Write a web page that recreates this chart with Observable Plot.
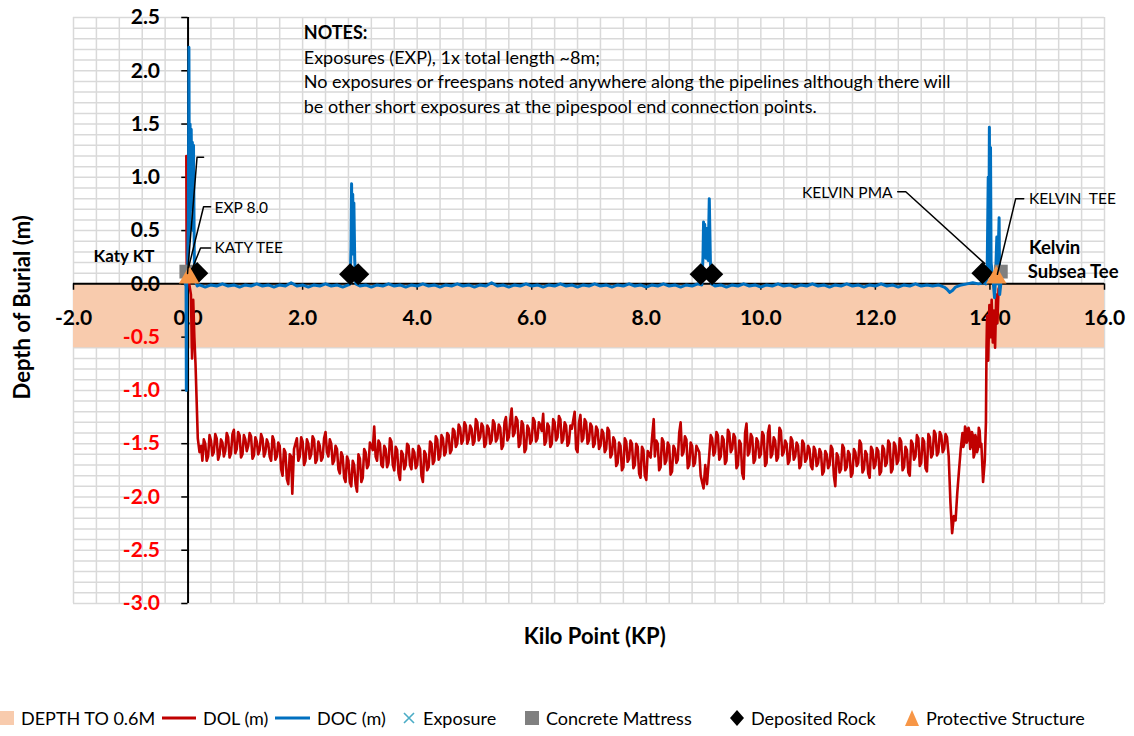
<!DOCTYPE html>
<html><head><meta charset="utf-8">
<script src="https://cdn.jsdelivr.net/npm/d3@7"></script>
<script src="https://cdn.jsdelivr.net/npm/@observablehq/plot@0.6"></script>
<style>
body{margin:0;background:#fff;font-family:Lato,"Open Sans",sans-serif;}
#wrap{position:relative;width:1134px;height:736px;overflow:hidden;}
#legend{position:absolute;left:0;top:700px;width:1134px;height:36px;font-size:18px;color:#000;}
#legend .it{position:absolute;top:0;height:36px;display:flex;align-items:center;white-space:nowrap;}
</style></head><body><div id="wrap"><div id="chart"></div><div id="legend"></div></div>
<script>
// ---- tick labels ----
const X_TICKS = [-2, 0, 2, 4, 6, 8, 10, 12, 14, 16];
const Y_TICKS = [-3, -2.5, -2, -1.5, -1, -0.5, 0, 0.5, 1, 1.5, 2, 2.5];

// ---- DEPTH TO 0.6M band ----
const depthBand = [{top: 0, bottom: -0.6}];

// ---- DOL (m) : [KP, depth] ----
const dolPoints = [
[-0.03,1.20],[-0.025,0.30],[-0.02,0.02],[0.02,0.00],[0.05,-0.10],[0.07,-0.70],[0.09,-0.15],[0.11,-0.50],[0.13,-0.75],[0.15,-1.10],[0.17,-1.45],[0.20,-1.58],[0.23,-1.52],
[0.25,-1.66],[0.30,-1.50],[0.35,-1.62],[0.40,-1.47],[0.45,-1.58],[0.50,-1.45],[0.55,-1.60],[0.60,-1.49],[0.65,-1.57],[0.70,-1.44],[0.75,-1.59],[0.80,-1.37],[0.85,-1.55],[0.90,-1.42],[0.95,-1.60],[1.00,-1.46],[1.05,-1.52],[1.10,-1.43],[1.15,-1.61],[1.20,-1.48],[1.25,-1.56],[1.30,-1.45],[1.35,-1.58],[1.40,-1.50],[1.45,-1.66],[1.50,-1.47],[1.55,-1.62],
[1.60,-1.52],[1.65,-1.80],[1.70,-1.58],[1.75,-1.88],[1.80,-1.62],[1.82,-1.97],[1.85,-1.55],
[1.90,-1.45],[1.95,-1.62],[2.00,-1.48],[2.05,-1.66],[2.10,-1.50],[2.15,-1.60],[2.20,-1.46],[2.25,-1.65],[2.30,-1.52],[2.35,-1.63],[2.40,-1.39],[2.45,-1.62],[2.50,-1.50],[2.55,-1.66],[2.60,-1.55],
[2.65,-1.78],[2.70,-1.62],[2.75,-1.86],[2.80,-1.66],[2.85,-1.90],[2.90,-1.70],[2.95,-1.95],[3.00,-1.64],[3.05,-1.82],[3.10,-1.58],
[3.15,-1.70],[3.20,-1.52],[3.25,-1.34],[3.30,-1.66],[3.35,-1.50],[3.40,-1.72],[3.45,-1.55],[3.50,-1.68],[3.55,-1.48],[3.60,-1.75],[3.65,-1.56],[3.70,-1.84],[3.75,-1.60],[3.80,-1.70],[3.85,-1.52],[3.90,-1.74],[3.95,-1.58],[4.00,-1.70],[4.05,-1.55],[4.10,-1.86],[4.15,-1.60],[4.20,-1.72],[4.25,-1.50],[4.30,-1.66],[4.35,-1.46],[4.40,-1.62],[4.45,-1.45],[4.50,-1.58],
[4.55,-1.42],[4.60,-1.56],[4.65,-1.38],[4.70,-1.50],[4.75,-1.35],[4.80,-1.47],
[4.85,-1.33],[4.90,-1.46],[4.95,-1.36],[5.00,-1.48],[5.05,-1.30],[5.10,-1.44],[5.15,-1.34],[5.20,-1.50],[5.25,-1.36],[5.30,-1.47],[5.35,-1.31],[5.40,-1.45],[5.45,-1.35],[5.50,-1.52],[5.55,-1.25],[5.60,-1.44],[5.65,-1.17],[5.70,-1.40],[5.75,-1.28],[5.80,-1.50],[5.85,-1.32],[5.90,-1.55],[5.95,-1.36],[6.00,-1.47],[6.05,-1.29],[6.10,-1.45],[6.15,-1.33],[6.20,-1.22],[6.25,-1.48],[6.30,-1.34],[6.35,-1.50],[6.40,-1.30],[6.45,-1.44],[6.50,-1.27],[6.55,-1.46],[6.60,-1.33],[6.65,-1.49],[6.70,-1.36],[6.75,-1.20],[6.80,-1.58],[6.85,-1.23],[6.90,-1.45],[6.95,-1.30],[7.00,-1.47],[7.05,-1.34],[7.10,-1.50],[7.15,-1.37],[7.20,-1.52],
[7.25,-1.40],[7.30,-1.55],[7.35,-1.38],[7.40,-1.60],[7.45,-1.47],[7.50,-1.68],[7.55,-1.52],[7.60,-1.72],[7.65,-1.48],[7.70,-1.64],[7.75,-1.50],[7.80,-1.70],[7.85,-1.53],[7.90,-1.82],[7.95,-1.56],[8.00,-1.84],[8.05,-1.60],[8.10,-1.45],[8.13,-1.27],[8.15,-1.62],[8.20,-1.50],[8.25,-1.72],[8.30,-1.48],[8.35,-1.66],[8.40,-1.52],[8.45,-1.76],[8.50,-1.55],[8.55,-1.65],[8.60,-1.30],[8.65,-1.58],[8.70,-1.46],[8.75,-1.70],[8.80,-1.52],[8.85,-1.68],[8.90,-1.55],
[8.95,-1.80],[9.00,-1.92],[9.03,-1.70],[9.06,-1.88],[9.10,-1.60],
[9.15,-1.45],[9.20,-1.58],[9.25,-1.42],[9.30,-1.62],[9.35,-1.46],[9.40,-1.66],[9.45,-1.40],[9.50,-1.55],[9.55,-1.44],[9.60,-1.70],[9.65,-1.50],[9.70,-1.83],[9.75,-1.31],[9.80,-1.58],[9.85,-1.44],[9.90,-1.65],[9.95,-1.48],[10.00,-1.60],[10.05,-1.42],[10.10,-1.68],[10.15,-1.33],[10.20,-1.60],[10.25,-1.47],[10.30,-1.63],[10.35,-1.38],[10.40,-1.58],[10.45,-1.50],[10.50,-1.66],[10.55,-1.47],[10.60,-1.62],[10.65,-1.52],[10.70,-1.70],[10.75,-1.50],[10.80,-1.64],[10.85,-1.55],[10.90,-1.74],[10.95,-1.56],[11.00,-1.68],
[11.05,-1.58],[11.10,-1.76],[11.15,-1.60],[11.20,-1.70],[11.25,-1.55],[11.30,-1.90],[11.35,-1.62],[11.40,-1.74],[11.45,-1.54],[11.50,-1.72],[11.55,-1.60],[11.60,-1.78],[11.65,-1.58],[11.70,-1.68],[11.75,-1.50],[11.80,-1.74],[11.85,-1.60],[11.90,-1.82],[11.95,-1.56],[12.00,-1.70],[12.05,-1.57],[12.10,-1.76],
[12.15,-1.55],[12.20,-1.68],[12.25,-1.50],[12.30,-1.74],[12.35,-1.52],[12.40,-1.66],[12.45,-1.48],[12.50,-1.72],[12.55,-1.56],[12.60,-1.80],[12.65,-1.50],[12.70,-1.62],[12.75,-1.45],[12.80,-1.68],[12.85,-1.48],[12.90,-1.76],[12.95,-1.44],[13.00,-1.60],[13.05,-1.41],[13.10,-1.58],[13.15,-1.42],[13.20,-1.55],[13.25,-1.44],
[13.28,-1.62],[13.31,-2.05],[13.34,-2.34],[13.37,-2.18],[13.40,-2.22],[13.43,-1.96],[13.46,-1.75],[13.49,-1.55],
[13.52,-1.40],[13.55,-1.50],[13.58,-1.36],[13.61,-1.46],[13.64,-1.38],[13.67,-1.52],[13.70,-1.42],[13.73,-1.60],[13.76,-1.45],[13.79,-1.55],[13.82,-1.38],[13.85,-1.50],[13.88,-1.86],[13.91,-1.66],[13.93,-1.30],
[13.94,-0.60],[13.95,-0.30],[13.97,-0.72],[13.99,-0.20],[14.01,-0.50],[14.03,-0.15],[14.05,-0.55],[14.07,-0.25],[14.09,-0.60],[14.11,-0.10],[14.13,-0.37],[14.15,-0.05],[14.17,-0.02]
];
// ---- DOL (m) : extra in-between readings of the noisy band ----
const dolFill = [
[0.275,-1.46],[0.325,-1.66],[0.375,-1.42],[0.425,-1.61],[0.475,-1.41],[0.525,-1.65],[0.575,-1.46],[0.625,-1.62],[0.675,-1.40],[0.725,-1.63],[0.775,-1.41],[0.825,-1.59],[0.875,-1.39],[0.925,-1.63],[0.975,-1.42],[1.025,-1.57],[1.075,-1.40],[1.125,-1.64],[1.175,-1.44],[1.225,-1.60],[1.275,-1.41],[1.325,-1.62],[1.375,-1.46],[1.425,-1.62],[1.475,-1.43],[1.525,-1.65],[1.575,-1.49],
[1.625,-1.74],[1.675,-1.55],[1.725,-1.83],[1.775,-1.60],[1.875,-1.50],
[1.925,-1.66],[1.975,-1.44],[2.025,-1.70],[2.075,-1.46],[2.125,-1.64],[2.175,-1.43],[2.225,-1.68],[2.275,-1.48],[2.325,-1.66],[2.375,-1.45],[2.425,-1.58],[2.475,-1.46],[2.525,-1.69],[2.575,-1.52],[2.625,-1.74],
[2.675,-1.58],[2.725,-1.82],[2.775,-1.62],[2.825,-1.86],[2.875,-1.66],[2.925,-1.88],[2.975,-1.60],[3.025,-1.86],[3.075,-1.55],[3.125,-1.73],
[3.175,-1.49],[3.225,-1.56],[3.275,-1.62],[3.325,-1.47],[3.375,-1.70],[3.425,-1.52],[3.475,-1.72],[3.525,-1.45],[3.575,-1.70],[3.625,-1.53],[3.675,-1.78],[3.725,-1.57],[3.775,-1.74],[3.825,-1.50],[3.875,-1.70],[3.925,-1.55],[3.975,-1.73],[4.025,-1.52],[4.075,-1.80],[4.125,-1.57],[4.175,-1.75],[4.225,-1.48],[4.275,-1.69],[4.325,-1.43],[4.375,-1.65],[4.425,-1.42],[4.475,-1.61],[4.525,-1.40],
[4.575,-1.59],[4.625,-1.36],[4.675,-1.53],[4.725,-1.32],[4.775,-1.50],[4.825,-1.30],
[4.875,-1.50],[4.925,-1.33],[4.975,-1.51],[5.025,-1.27],[5.075,-1.47],[5.125,-1.31],[5.175,-1.53],[5.225,-1.33],[5.275,-1.50],[5.325,-1.28],[5.375,-1.48],[5.425,-1.32],[5.475,-1.55],[5.525,-1.30],[5.575,-1.47],[5.625,-1.28],[5.675,-1.43],[5.725,-1.25],[5.775,-1.53],[5.825,-1.29],[5.875,-1.58],[5.925,-1.33],[5.975,-1.50],[6.025,-1.26],[6.075,-1.48],[6.125,-1.30],[6.175,-1.38],[6.225,-1.51],[6.275,-1.31],[6.325,-1.53],[6.375,-1.27],[6.425,-1.47],[6.475,-1.24],[6.525,-1.49],[6.575,-1.30],[6.625,-1.52],[6.675,-1.33],[6.725,-1.28],[6.775,-1.55],[6.825,-1.30],[6.875,-1.48],[6.925,-1.27],[6.975,-1.50],[7.025,-1.31],[7.075,-1.53],[7.125,-1.34],[7.175,-1.55],[7.225,-1.37],
[7.275,-1.58],[7.325,-1.35],[7.375,-1.63],[7.425,-1.44],[7.475,-1.71],[7.525,-1.49],[7.575,-1.75],[7.625,-1.45],[7.675,-1.67],[7.725,-1.47],[7.775,-1.73],[7.825,-1.50],[7.875,-1.78],[7.925,-1.53],[7.975,-1.80],[8.025,-1.57],[8.075,-1.63],[8.175,-1.47],[8.225,-1.75],[8.275,-1.45],[8.325,-1.69],[8.375,-1.49],[8.425,-1.79],[8.475,-1.52],[8.525,-1.68],[8.575,-1.40],[8.625,-1.61],[8.675,-1.43],[8.725,-1.73],[8.775,-1.49],[8.825,-1.71],[8.875,-1.52],[8.925,-1.58],
[9.125,-1.42],[9.175,-1.61],[9.225,-1.39],[9.275,-1.65],[9.325,-1.43],[9.375,-1.69],[9.425,-1.37],[9.475,-1.58],[9.525,-1.41],[9.575,-1.73],[9.625,-1.47],[9.675,-1.78],[9.725,-1.40],[9.775,-1.61],[9.825,-1.41],[9.875,-1.68],[9.925,-1.45],[9.975,-1.63],[10.025,-1.39],[10.075,-1.71],[10.125,-1.40],[10.175,-1.63],[10.225,-1.44],[10.275,-1.66],[10.325,-1.35],[10.375,-1.61],[10.425,-1.47],[10.475,-1.69],[10.525,-1.44],[10.575,-1.65],[10.625,-1.49],[10.675,-1.73],[10.725,-1.47],[10.775,-1.67],[10.825,-1.52],[10.875,-1.71],[10.925,-1.53],[10.975,-1.71],[11.025,-1.55],
[11.075,-1.79],[11.125,-1.57],[11.175,-1.73],[11.225,-1.52],[11.275,-1.80],[11.325,-1.59],[11.375,-1.77],[11.425,-1.51],[11.475,-1.75],[11.525,-1.57],[11.575,-1.81],[11.625,-1.55],[11.675,-1.71],[11.725,-1.47],[11.775,-1.77],[11.825,-1.57],[11.875,-1.78],[11.925,-1.53],[11.975,-1.73],[12.025,-1.54],[12.075,-1.79],[12.125,-1.52],
[12.175,-1.71],[12.225,-1.47],[12.275,-1.77],[12.325,-1.49],[12.375,-1.69],[12.425,-1.45],[12.475,-1.75],[12.525,-1.53],[12.575,-1.77],[12.625,-1.47],[12.675,-1.65],[12.725,-1.42],[12.775,-1.71],[12.825,-1.45],[12.875,-1.73],[12.925,-1.41],[12.975,-1.63],[13.025,-1.38],[13.075,-1.61],[13.125,-1.39],[13.175,-1.58],[13.225,-1.41],
[13.535,-1.53],[13.565,-1.34],[13.595,-1.49],[13.625,-1.35],[13.655,-1.55],[13.685,-1.39],[13.715,-1.63],[13.745,-1.42],[13.775,-1.58],[13.805,-1.35],[13.835,-1.53]
];

// ---- DOC (m) : [KP, depth] ----
const docPoints = [
[-0.05,0.00],[-0.035,-0.02],[-0.03,-1.00],[-0.025,0.00],[-0.01,0.05],[0.005,0.60],[0.015,2.22],[0.025,0.40],[0.035,1.50],[0.045,0.70],[0.055,1.45],[0.065,0.90],[0.075,1.33],[0.085,0.50],[0.095,1.30],[0.11,0.20],[0.13,0.02],[0.16,-0.02],
[0.2,-0.01],[0.3,-0.03],[0.4,-0.01],[0.5,-0.02],[0.6,0.00],[0.7,-0.02],[0.8,-0.01],[0.9,-0.03],[1.0,-0.01],[1.1,-0.02],[1.2,0.00],[1.3,-0.02],[1.4,-0.01],[1.5,-0.03],[1.6,-0.01],[1.7,-0.02],[1.8,0.01],[1.9,-0.02],[2.0,-0.01],[2.1,-0.03],[2.2,-0.01],[2.3,-0.02],[2.4,0.00],[2.5,-0.02],[2.6,-0.01],[2.7,-0.03],[2.8,-0.01],
[2.83,0.00],[2.845,0.35],[2.855,0.94],[2.865,0.28],[2.875,0.84],[2.885,0.30],[2.895,0.76],[2.91,0.22],[2.93,0.00],
[3.0,-0.02],[3.1,-0.01],[3.2,-0.03],[3.3,-0.01],[3.4,-0.02],[3.5,0.00],[3.6,-0.02],[3.7,-0.01],[3.8,-0.03],[3.9,-0.01],[4.0,-0.02],[4.1,0.00],[4.2,-0.02],[4.3,-0.01],[4.4,-0.03],[4.5,-0.01],[4.6,-0.02],[4.7,0.00],[4.8,-0.02],[4.9,-0.01],[5.0,-0.03],[5.1,-0.01],[5.2,-0.02],[5.3,0.01],[5.4,-0.02],[5.5,-0.01],[5.6,-0.03],[5.7,-0.01],[5.8,-0.02],[5.9,0.00],[6.0,-0.02],[6.1,-0.01],[6.2,-0.03],[6.3,-0.01],[6.4,-0.02],[6.5,0.00],[6.6,-0.02],[6.7,-0.01],[6.8,-0.03],[6.9,-0.01],[7.0,-0.02],[7.1,0.00],[7.2,-0.02],[7.3,-0.01],[7.4,-0.03],[7.5,-0.01],[7.6,-0.02],[7.7,0.00],[7.8,-0.02],[7.9,-0.01],[8.0,-0.03],[8.1,-0.01],[8.2,-0.02],[8.3,0.00],[8.4,-0.02],[8.5,-0.01],[8.6,-0.03],[8.7,-0.01],[8.8,-0.02],[8.9,0.00],
[8.97,-0.01],[8.99,0.25],[9.00,0.58],[9.01,0.30],[9.02,0.56],[9.04,0.24],[9.06,0.52],[9.08,0.22],[9.10,0.80],[9.12,0.20],[9.14,0.00],
[9.2,-0.02],[9.3,-0.01],[9.4,-0.03],[9.5,-0.01],[9.6,-0.02],[9.7,0.00],[9.8,-0.02],[9.9,-0.01],[10.0,-0.03],[10.1,-0.01],[10.2,-0.02],[10.3,0.00],[10.4,-0.02],[10.5,-0.01],[10.6,-0.03],[10.7,-0.01],[10.8,-0.02],[10.9,0.00],[11.0,-0.02],[11.1,-0.01],[11.2,-0.03],[11.3,-0.01],[11.4,-0.02],[11.5,0.00],[11.6,-0.02],[11.7,-0.01],[11.8,-0.03],[11.9,-0.01],[12.0,-0.02],[12.1,0.00],[12.2,-0.02],[12.3,-0.01],[12.4,-0.03],[12.5,-0.01],[12.6,-0.02],[12.7,0.00],[12.8,-0.02],[12.9,-0.01],[13.0,-0.02],[13.1,-0.01],[13.2,-0.03],[13.25,-0.05],[13.3,-0.08],[13.35,-0.06],[13.4,-0.03],[13.5,-0.01],[13.6,0.00],[13.7,0.01],[13.8,0.00],[13.9,0.01],
[13.93,0.00],[13.95,0.05],[13.97,1.00],[13.98,0.10],[13.99,1.47],[14.00,0.30],[14.01,1.28],[14.02,0.20],[14.04,0.10],[14.06,0.00],[14.08,-0.13],[14.10,0.10],[14.12,0.44],[14.13,0.00],[14.16,0.62],[14.17,-0.10],[14.19,0.00]
];

// ---- point series ----
const exposure = [[0.01, 0.08]];
const concreteMattress = [[-0.03, 0.115], [14.19, 0.115]];
const depositedRock = [[0.16, 0.10], [2.83, 0.09], [2.97, 0.09], [8.95, 0.09], [9.15, 0.09], [13.87, 0.10]];
const protectiveStructure = [[0.02, 0.06], [14.11, 0.06]];

// ---- labels / notes ----
const notes = [
  {x: 2.02, y: 2.355, t: "NOTES:", bold: true},
  {x: 2.02, y: 2.12, t: "Exposures (EXP), 1x total length ~8m;"},
  {x: 2.02, y: 1.89, t: "No exposures or freespans noted anywhere along the pipelines although there will"},
  {x: 2.02, y: 1.66, t: "be other short exposures at the pipespool end connection points."}
];
const labelsStart = [
  {x: 0.463, y: 0.715, t: "EXP 8.0"},
  {x: 0.463, y: 0.34, t: "KATY TEE"},
  {x: 14.68, y: 0.795, t: "KELVIN\u00a0 TEE"}
];
const labelsEnd = [{x: 12.30, y: 0.856, t: "KELVIN PMA"}];
const boldStart = [{x: 14.68, y: 0.34, t: "Kelvin"}, {x: 14.66, y: 0.115, t: "Subsea Tee"}];
const boldEnd = [{x: -0.585, y: 0.256, t: "Katy KT"}];
const leaders = [
  {id: "exp", pts: [[0.393, 0.724], [0.271, 0.724], [0.009, 0.153]]},
  {id: "katy", pts: [[0.393, 0.337], [0.218, 0.337], [0.073, 0.141]]},
  {id: "kt", pts: [[0.271, 1.188], [0.157, 1.188], [-0.009, 0.097]]},
  {id: "pma", pts: [[12.39, 0.865], [12.53, 0.865], [13.91, 0.19]]},
  {id: "ktee", pts: [[14.59, 0.80], [14.45, 0.80], [14.13, 0.09]]}
];

const RED = "#C00000", BLUE = "#0070C0", BAND = "#F8CBAD", GREY = "#808080", ORANGE = "#F79646", LBLUE = "#4BACC6";

const toObj = a => a.map(([kp, v]) => ({kp, v}));
const dol = toObj([...dolPoints, ...dolFill].sort((a, b) => a[0] - b[0]));
const doc = toObj(docPoints);
const leaderRows = leaders.flatMap(l => l.pts.map(([kp, v]) => ({id: l.id, kp, v})));
const xGrid = d3.range(0, 46).map(i => -2 + i * 0.4);
const yGrid = d3.range(0, 56).map(i => -3 + i * 0.1);

const chart = Plot.plot({
  width: 1134, height: 700,
  marginLeft: 73, marginRight: 30, marginTop: 17, marginBottom: 97,
  x: {domain: [-2, 16], axis: null},
  y: {domain: [-3, 2.5], axis: null},
  style: {fontFamily: "Lato, 'Open Sans', sans-serif", background: "#fff", color: "#000"},
  marks: [
    Plot.ruleX(xGrid, {y1: -3, y2: 2.5, stroke: "#d9d9d9", strokeWidth: 1.5}),
    Plot.ruleY(yGrid, {x1: -2, x2: 16, stroke: "#d9d9d9", strokeWidth: 1.5}),
    Plot.rect(depthBand, {x1: -2, x2: 16, y1: "bottom", y2: "top", fill: BAND}),
    Plot.ruleY([0], {x1: -2, x2: 16, stroke: "#000", strokeWidth: 2}),
    Plot.ruleX([0], {y1: -3, y2: 2.5, stroke: "#000", strokeWidth: 2}),
    Plot.ruleY(Y_TICKS, {x1: -0.11, x2: 0, stroke: "#000", strokeWidth: 1.5}),
    Plot.ruleX(X_TICKS, {y1: 0, y2: -0.06, stroke: "#000", strokeWidth: 1.5}),
    Plot.text(Y_TICKS.filter(d => d >= 0), {x: 0, y: d => d, dx: -28, textAnchor: "end", text: d => d.toFixed(1), fontWeight: "bold", fontSize: 21, fill: "#000"}),
    Plot.text(Y_TICKS.filter(d => d < 0), {x: 0, y: d => d, dx: -28, textAnchor: "end", text: d => d.toFixed(1), fontWeight: "bold", fontSize: 21, fill: "#FF0000"}),
    Plot.text(X_TICKS, {x: d => d, y: 0, dy: 34, text: d => d.toFixed(1), fontWeight: "bold", fontSize: 21, fill: "#000"}),
    Plot.line(dol, {x: "kp", y: "v", stroke: RED, strokeWidth: 2.6}),
    Plot.line(doc, {x: "kp", y: "v", stroke: BLUE, strokeWidth: 3}),
    Plot.dot(toObj(exposure), {x: "kp", y: "v", symbol: "times", stroke: LBLUE, strokeWidth: 1.5, r: 5}),
    Plot.dot(toObj(concreteMattress), {x: "kp", y: "v", symbol: "square", fill: GREY, r: 7.8}),
    Plot.dot(toObj(depositedRock), {x: "kp", y: "v", symbol: "diamond2", fill: "#000", r: 10}),
    Plot.dot(toObj(protectiveStructure), {x: "kp", y: "v", symbol: "triangle", fill: ORANGE, r: 7.6}),
    Plot.line(leaderRows, {x: "kp", y: "v", z: "id", stroke: "#000", strokeWidth: 1.5}),
    Plot.text(notes.filter(d => d.bold), {x: "x", y: "y", text: "t", textAnchor: "start", fontWeight: "bold", fontSize: 18, fill: "#000"}),
    Plot.text(notes.filter(d => !d.bold), {x: "x", y: "y", text: "t", textAnchor: "start", fontSize: 18, fill: "#000"}),
    Plot.text(labelsStart, {x: "x", y: "y", text: "t", textAnchor: "start", fontSize: 15.5, fill: "#000"}),
    Plot.text(labelsEnd, {x: "x", y: "y", text: "t", textAnchor: "end", fontSize: 15.5, fill: "#000"}),
    Plot.text(boldStart, {x: "x", y: "y", text: "t", textAnchor: "start", fontSize: 18.5, fontWeight: "bold", fill: "#000"}),
    Plot.text(boldEnd, {x: "x", y: "y", text: "t", textAnchor: "end", fontSize: 17, fontWeight: "bold", fill: "#000"}),
    Plot.text(["Depth of Burial (m)"], {frameAnchor: "left", textAnchor: "middle", y: -0.22, dx: -51, rotate: -90, fontWeight: "bold", fontSize: 22, fill: "#000"}),
    Plot.text(["Kilo Point (KP)"], {frameAnchor: "bottom", textAnchor: "middle", x: 7.1, dy: 40, fontWeight: "bold", fontSize: 22, fill: "#000"})
  ]
});
document.getElementById("chart").appendChild(chart);

// ---- legend (HTML below the SVG) ----
const legendItems = [
  {left: 0, sw: `<svg width="14" height="14"><rect x="0" y="0" width="14" height="14" fill="${BAND}"/></svg>`, text: "DEPTH TO 0.6M"},
  {left: 162, sw: `<svg width="34" height="6"><line x1="0" y1="3" x2="34" y2="3" stroke="${RED}" stroke-width="3"/></svg>`, text: "DOL (m)"},
  {left: 275, sw: `<svg width="35" height="6"><line x1="0" y1="3" x2="35" y2="3" stroke="${BLUE}" stroke-width="3"/></svg>`, text: "DOC (m)"},
  {left: 402, sw: `<svg width="14" height="14"><path d="M2,2L12,12M12,2L2,12" stroke="${LBLUE}" stroke-width="1.6"/></svg>`, text: "Exposure"},
  {left: 525, sw: `<svg width="14" height="14"><rect x="0" y="0" width="14" height="14" fill="${GREY}"/></svg>`, text: "Concrete Mattress"},
  {left: 730, sw: `<svg width="14" height="16"><path d="M7,0L14,8L7,16L0,8Z" fill="#000"/></svg>`, text: "Deposited Rock"},
  {left: 905, sw: `<svg width="14" height="16"><path d="M7,0L14,16L0,16Z" fill="${ORANGE}"/></svg>`, text: "Protective Structure"}
];
const leg = document.getElementById("legend");
for (const it of legendItems) {
  const d = document.createElement("div");
  d.className = "it";
  d.style.left = it.left + "px";
  d.innerHTML = it.sw + `<span style="margin-left:7px">${it.text}</span>`;
  leg.appendChild(d);
}
</script></body></html>
